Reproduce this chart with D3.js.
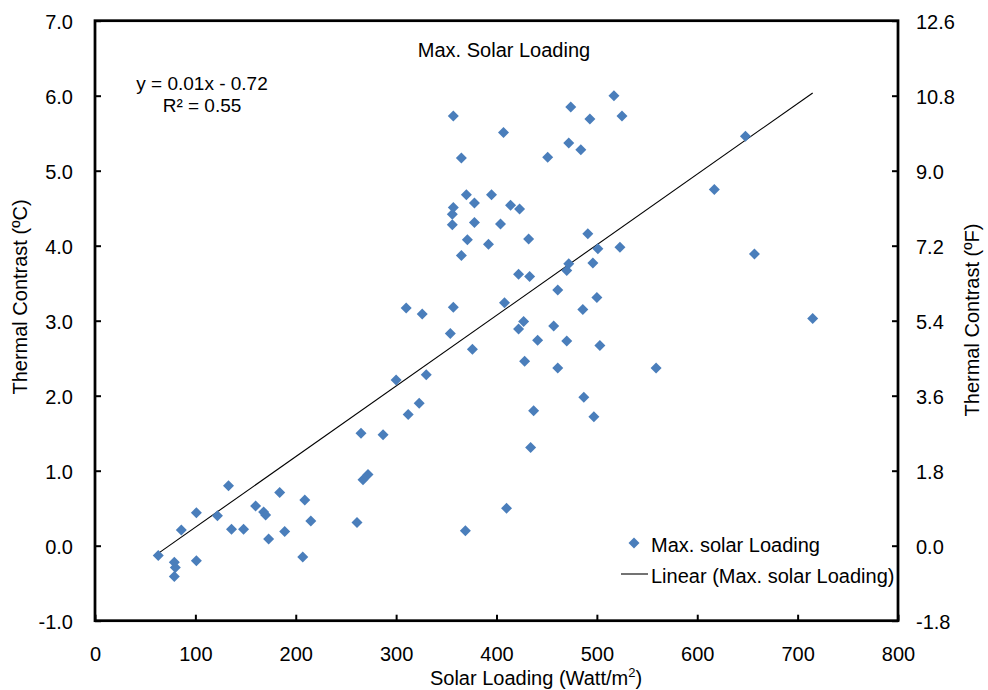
<!DOCTYPE html>
<html>
<head>
<meta charset="utf-8">
<script src="https://cdn.jsdelivr.net/npm/d3@7"></script>
<style>
  html, body { margin: 0; padding: 0; background: #fff; }
  svg { display: block; font-family: "Liberation Sans", Arial, sans-serif; }
</style>
</head>
<body>
<svg id="chart" width="988" height="690"></svg>
<script>
// Solar loading (W/m²) of each observation
const solarLoading = [
  63, 79, 80, 79, 86, 101, 101, 122, 133, 136,
  148, 160, 168, 170, 173, 184, 189, 207, 209, 215,
  261, 267, 272, 265, 287, 300, 310, 312, 323, 326,
  330, 354, 357, 356, 356, 357, 357, 365, 365, 369,
  370, 371, 376, 378, 378, 392, 395, 404, 407, 408,
  410, 414, 422, 422, 423, 427, 428, 432, 433, 434,
  437, 441, 451, 457, 461, 461, 470, 470, 472, 472,
  474, 484, 486, 487, 491, 493, 496, 497, 500, 501,
  503, 517, 523, 525, 559, 617, 648, 657, 715
];
// Thermal contrast (°C) of each observation
const thermalContrast = [
  -0.13, -0.22, -0.29, -0.41, 0.21, 0.44, -0.20, 0.40, 0.80, 0.22,
  0.22, 0.53, 0.45, 0.41, 0.09, 0.71, 0.19, -0.15, 0.61, 0.33,
  0.31, 0.88, 0.95, 1.50, 1.48, 2.21, 3.17, 1.75, 1.90, 3.09,
  2.28, 2.83, 3.18, 4.28, 4.42, 4.51, 5.73, 5.17, 3.87, 0.20,
  4.68, 4.08, 2.62, 4.57, 4.31, 4.02, 4.68, 4.29, 5.51, 3.24,
  0.50, 4.54, 3.62, 2.89, 4.49, 2.99, 2.46, 4.09, 3.59, 1.31,
  1.80, 2.74, 5.18, 2.93, 3.41, 2.37, 3.67, 2.73, 3.76, 5.37,
  5.85, 5.28, 3.15, 1.98, 4.16, 5.69, 3.77, 1.72, 3.31, 3.96,
  2.67, 6.00, 3.98, 5.73, 2.37, 4.75, 5.46, 3.89, 3.03
];

const xTicks = [0, 100, 200, 300, 400, 500, 600, 700, 800];
const yTicksC = [-1, 0, 1, 2, 3, 4, 5, 6, 7];
const yTicksF = [-1.8, 0, 1.8, 3.6, 5.4, 7.2, 9.0, 10.8, 12.6];

const chartTitle = "Max. Solar Loading";
const equationLines = ["y = 0.01x - 0.72", "R² = 0.55"];
const legendLabels = ["Max. solar Loading", "Linear (Max. solar Loading)"];

const svg = d3.select("#chart");
const plotLeft = 95, plotRight = 898, plotTop = 20.7, plotBottom = 620.7;
const markerColor = "#4A7EBB";

// number labels use a plain hyphen for negatives
const locale = d3.formatLocale({ decimal: ".", thousands: ",", grouping: [3], currency: ["", ""], minus: "-" });
const fmt1 = locale.format(".1f");
const fmt0 = locale.format("d");

const x = d3.scaleLinear().domain([0, 800]).range([plotLeft, plotRight]);
const y = d3.scaleLinear().domain([-1, 7]).range([plotBottom, plotTop]);
const yF = d3.scaleLinear().domain([-1.8, 12.6]).range([plotBottom, plotTop]);

const points = solarLoading.map((s, i) => ({ s, t: thermalContrast[i] }));

// least-squares trend line
const mx = d3.mean(points, d => d.s), my = d3.mean(points, d => d.t);
let sxy = 0, sxx = 0;
points.forEach(d => {
  sxy += (d.s - mx) * (d.t - my);
  sxx += (d.s - mx) ** 2;
});
const slope = sxy / sxx;
const intercept = my - slope * mx;
const [xMin, xMax] = d3.extent(solarLoading);

// axes
const styleAxis = g => {
  g.select(".domain").remove();
  g.selectAll(".tick line").attr("stroke", "#000").attr("stroke-width", 2);
  g.selectAll(".tick text").attr("fill", "#000").attr("font-size", 20)
    .attr("font-family", "'Liberation Sans', Arial, sans-serif");
};

svg.append("g")
  .attr("transform", `translate(${plotLeft},0)`)
  .call(d3.axisLeft(y).tickValues(yTicksC).tickFormat(fmt1)
    .tickSizeInner(-6).tickSizeOuter(0).tickPadding(22))
  .call(styleAxis)
  .call(g => g.selectAll(".tick text").attr("dy", "0.4em"));

svg.append("g")
  .attr("transform", `translate(${plotRight},0)`)
  .call(d3.axisRight(yF).tickValues(yTicksF).tickFormat(fmt1)
    .tickSizeInner(-6).tickSizeOuter(0).tickPadding(18))
  .call(styleAxis)
  .call(g => g.selectAll(".tick text").attr("dy", "0.4em"));

svg.append("g")
  .attr("transform", `translate(0,${plotBottom})`)
  .call(d3.axisBottom(x).tickValues(xTicks).tickFormat(fmt0)
    .tickSizeInner(-6).tickSizeOuter(0).tickPadding(26))
  .call(styleAxis);

// plot frame
svg.append("rect")
  .attr("x", plotLeft).attr("y", plotTop)
  .attr("width", plotRight - plotLeft).attr("height", plotBottom - plotTop)
  .attr("fill", "none").attr("stroke", "#000").attr("stroke-width", 2.75);

// trend line
svg.append("line")
  .attr("x1", x(xMin)).attr("y1", y(slope * xMin + intercept))
  .attr("x2", x(xMax)).attr("y2", y(slope * xMax + intercept))
  .attr("stroke", "#000").attr("stroke-width", 1.1);

// markers
const diamond = "M0,-5.5L5.5,0L0,5.5L-5.5,0Z";
svg.append("g").selectAll("path")
  .data(points)
  .join("path")
  .attr("d", diamond)
  .attr("transform", d => `translate(${x(d.s)},${y(d.t)})`)
  .attr("fill", markerColor);

// titles
svg.append("text")
  .attr("x", 504).attr("y", 57)
  .attr("text-anchor", "middle").attr("font-size", 20)
  .text(chartTitle);

svg.append("g").selectAll("text")
  .data(equationLines)
  .join("text")
  .attr("x", 202).attr("y", (d, i) => 90 + i * 22)
  .attr("text-anchor", "middle").attr("font-size", 19)
  .text(d => d);

svg.append("text")
  .attr("transform", "translate(26.5,297) rotate(-90)")
  .attr("text-anchor", "middle").attr("font-size", 20)
  .text("Thermal Contrast (ºC)");

svg.append("text")
  .attr("transform", "translate(979,320) rotate(-90)")
  .attr("text-anchor", "middle").attr("font-size", 20)
  .text("Thermal Contrast (ºF)");

const xTitle = svg.append("text")
  .attr("x", 536).attr("y", 685)
  .attr("text-anchor", "middle").attr("font-size", 20);
xTitle.append("tspan").text("Solar Loading (Watt/m");
xTitle.append("tspan").attr("font-size", 13).attr("dy", -8).text("2");
xTitle.append("tspan").attr("dy", 8).text(")");

// legend
const legend = svg.append("g");
legend.append("path")
  .attr("d", diamond)
  .attr("transform", "translate(634,543)")
  .attr("fill", markerColor);
legend.append("line")
  .attr("x1", 621).attr("x2", 648).attr("y1", 574).attr("y2", 574)
  .attr("stroke", "#000").attr("stroke-width", 1.1);
legend.selectAll("text")
  .data(legendLabels)
  .join("text")
  .attr("x", 651).attr("y", (d, i) => 551.5 + i * 31.5)
  .attr("font-size", 20)
  .text(d => d);
</script>
</body>
</html>
